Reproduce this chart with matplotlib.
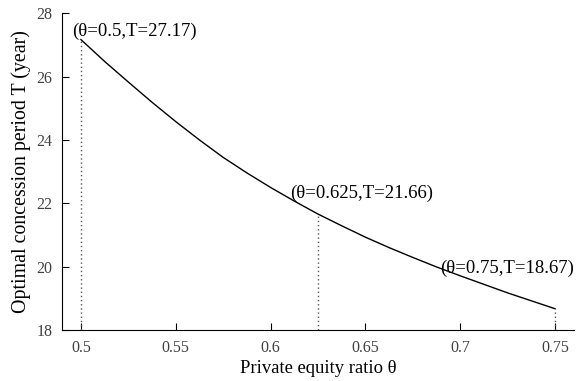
import numpy as np
from matplotlib import pyplot as plt

# curve
theta = [0.5, 0.5125, 0.525, 0.5375, 0.55, 0.5625, 0.575, 0.5875, 0.6, 0.6125,
         0.625, 0.6375, 0.65, 0.6625, 0.675, 0.6875, 0.7, 0.7125, 0.725, 0.7375, 0.75]
T = [27.17, 26.48, 25.83, 25.19, 24.58, 24.00, 23.45, 22.96, 22.50, 22.07,
     21.66, 21.29, 20.93, 20.60, 20.29, 19.99, 19.71, 19.44, 19.17, 18.92, 18.67]

# marked points
mark_theta = [0.5, 0.625, 0.75]
mark_T = [27.17, 21.66, 18.67]
mark_text = ['(θ=0.5,T=27.17)', '(θ=0.625,T=21.66)', '(θ=0.75,T=18.67)']
text_pos = [(0.4956, 27.42), (0.6103, 22.32), (0.6895, 19.95)]

xticks = [0.5, 0.55, 0.6, 0.65, 0.7, 0.75]
xticklabels = ['0.5', '0.55', '0.6', '0.65', '0.7', '0.75']
yticks = [18, 20, 22, 24, 26, 28]

plt.rcParams['font.family'] = ['Liberation Serif', 'DejaVu Serif']

fig = plt.figure(figsize=(5.76, 3.81), dpi=100)
ax = fig.add_axes([0.1076, 0.134, 0.889, 0.831])

ax.plot(theta, T, color='black', lw=1.0)

# dotted drop lines
for xm, ym in zip(mark_theta, mark_T):
    ax.plot([xm, xm], [18, ym], color='#555555', lw=1.0, ls=(0, (1, 2)))

for (xt, yt), s in zip(text_pos, mark_text):
    ax.text(xt, yt, s, fontsize=13.5, ha='left', va='center', color='black')

ax.set_xlim(0.49, 0.76)
ax.set_ylim(18, 28)
ax.set_xticks(xticks)
ax.set_xticklabels(xticklabels)
ax.set_yticks(yticks)
ax.tick_params(direction='in', labelsize=11.5, labelcolor='#404040', length=5, pad=7)

ax.spines['top'].set_visible(False)
ax.spines['right'].set_visible(False)

ax.set_xlabel('Private equity ratio θ', fontsize=13.4, labelpad=3)
ax.set_ylabel('Optimal concession period T (year)', fontsize=14.3, labelpad=4)

fig.savefig('out.png', dpi=100)
